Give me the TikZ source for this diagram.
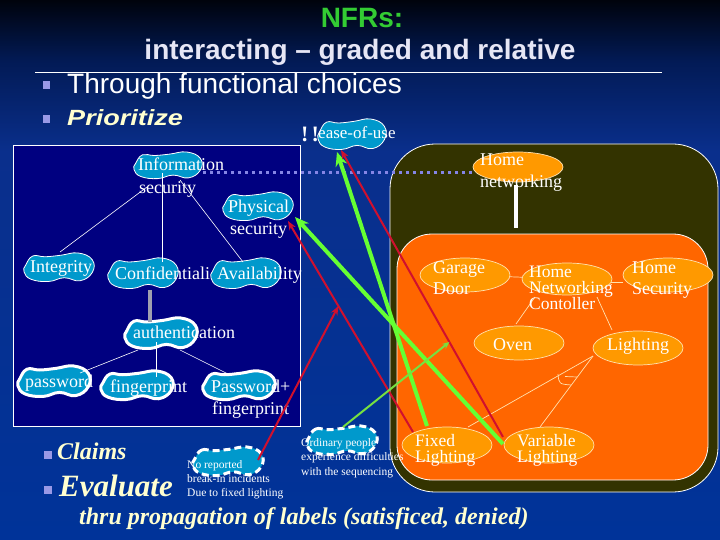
\documentclass[tikz,border=0pt]{standalone}
\usepackage{fontspec}
\setmainfont{Liberation Serif}
\newfontfamily\sansf{Liberation Sans}
\usetikzlibrary{arrows.meta,shapes.geometric,calc}
\definecolor{bgtop}{HTML}{00030C}
\definecolor{bgup}{HTML}{021A55}
\definecolor{bgmid}{HTML}{0A2F8C}
\definecolor{bgbot}{HTML}{003399}
\definecolor{cloudc}{HTML}{0099CC}
\definecolor{ellc}{HTML}{FF9900}
\definecolor{ellline}{HTML}{FFE2B0}
\definecolor{orboxc}{HTML}{FF6600}
\definecolor{olivec}{HTML}{333300}
\definecolor{navyc}{HTML}{000080}
\definecolor{grn}{HTML}{66FF33}
\definecolor{grnthin}{HTML}{77E040}
\definecolor{redc}{HTML}{D0102E}
\definecolor{lav}{HTML}{9999E6}
\definecolor{cream}{HTML}{FFFFD0}
\definecolor{titleg}{HTML}{33CC33}
\definecolor{titlel}{HTML}{E6E6F5}
\definecolor{dotc}{HTML}{8585E5}
\definecolor{grayl}{HTML}{A0A0B0}
\pgfdeclareverticalshading{bgsh}{100bp}{color(0bp)=(bgbot); color(25bp)=(bgbot); color(61bp)=(bgmid); color(69.4bp)=(bgup); color(75bp)=(bgtop); color(100bp)=(bgtop)}
\newcommand\blobat[6]{%
  \begin{scope}[shift={(#2,#3)},xscale=#4,yscale=#5]
    \path[#6] plot[smooth cycle,tension=0.75] coordinates {(-0.95,-0.2) (-0.75,-0.8) (-0.4,-0.75) (0.05,-0.85) (0.55,-1) (0.95,-0.55) (0.95,0.3) (0.6,0.85) (0.15,0.65) (-0.3,0.9) (-0.8,0.75) (-1,0.25)};
  \end{scope}
  \node[inner sep=0pt,minimum width=#4*2pt,minimum height=#5*2pt] (#1) at (#2,#3) {};}
\begin{document}
\begin{tikzpicture}[x=1pt,y=-1pt,
  lbl/.style={anchor=base west,inner sep=0pt,text=white,font=\fontsize{18}{20}\selectfont},
  lbls/.style={anchor=base west,inner sep=0pt,text=white,font=\fontsize{17.5}{19}\selectfont},
  sml/.style={anchor=base west,inner sep=0pt,text=white,font=\fontsize{11.5}{13}\selectfont},
  ell/.style={ellipse,draw=ellline,fill=ellc,line width=0.7pt,inner sep=0pt,minimum width=90pt,minimum height=34pt},
  thinw/.style={draw=white,line width=0.6pt},
  thino/.style={draw=ellline,line width=0.7pt},
  grnthick/.style={draw=grn,line width=4pt,-{Stealth[length=14pt,width=12pt]}},
  redl/.style={draw=redc,line width=2pt,-{Stealth[length=9pt,width=7pt]}},
  blt/.style={fill=lav,inner sep=0pt,minimum size=7.5pt},
  cloudthin/.style={draw=white,line width=0.8pt,fill=cloudc},
  cloudthick/.style={draw=white,line width=3pt,fill=cloudc},
  clouddash/.style={draw=white,line width=3pt,fill=cloudc,dash pattern=on 7pt off 4pt},
]
\useasboundingbox (0,0) rectangle (720,540);
\shade[shading=bgsh] (0,0) rectangle (720,540);

% title
\node[anchor=base,inner sep=0pt,font=\sansf\bfseries\fontsize{28}{30}\selectfont,text=titleg] (tNFR) at (362,28) {NFRs:};
\node[anchor=base,inner sep=0pt,font=\sansf\bfseries\fontsize{28}{30}\selectfont,text=titlel] (tInt) at (360,60) {interacting – graded and relative};
\draw[white,line width=0.8pt] (35,72) -- (662,72);
\node[blt] (b1) at (46.5,85) {};
\node[anchor=base west,inner sep=0pt,font=\sansf\fontsize{28}{30}\selectfont,text=white] (tThr) at (67,94) {Through functional choices};
\node[blt] (b2) at (46.5,119) {};
\node[anchor=base west,inner sep=0pt,font=\sansf\bfseries\itshape\fontsize{22}{24}\selectfont,text=cream] (tPri) at (67,126) {\scalebox{1.23}[1]{Prioritize}};

% boxes
\node[draw=white,fill=navyc,line width=0.8pt,inner sep=0pt,minimum width=287pt,minimum height=281pt] (lbox) at (156.5,285.5) {};
\node[draw=white,fill=olivec,line width=0.8pt,rounded corners=45pt,inner sep=0pt,minimum width=328pt,minimum height=348pt] (olive) at (554,318) {};
\node[draw=white,fill=orboxc,line width=0.8pt,rounded corners=35pt,inner sep=0pt,minimum width=311pt,minimum height=246pt] (orbox) at (552.5,357) {};

% clouds
\blobat{info}{168}{166}{34}{14}{cloudthin}
\blobat{phys}{258}{207}{35}{15}{cloudthin}
\blobat{integ}{59}{268}{35}{15}{cloudthin}
\blobat{conf}{143}{274}{35}{16}{cloudthin}
\blobat{avail}{246}{274}{35}{16}{cloudthin}
\blobat{auth}{161}{334}{36}{16}{cloudthick}
\blobat{pwd}{54}{382}{36}{16}{cloudthick}
\blobat{fing}{137}{386}{36}{15}{cloudthick}
\blobat{pwdf}{239}{386}{36}{15}{cloudthick}
\blobat{ease}{352}{135}{34}{16}{cloudthin}
\blobat{norep}{228}{462}{35}{15}{clouddash}
\blobat{ordin}{342}{441}{35}{15}{clouddash}

% ellipses
\node[ell,minimum height=30pt] (hn) at (518,167) {};
\node[ell] (garage) at (465,275) {};
\node[ell,minimum height=32pt] (hnc) at (567,279) {};
\node[ell] (hsec) at (668,275) {};
\node[ell] (oven) at (519,343) {};
\node[ell] (light) at (638,348) {};
\node[ell,minimum height=36pt] (fixed) at (447,445) {};
\node[ell,minimum height=36pt] (var) at (549,445) {};

% left tree lines
\draw[thinw] ($(info)+(-21,21)$) -- ($(integ)+(1,-16)$);
\draw[thinw] ($(info)+(-6,7)$) -- ($(conf)+(19,-12)$);
\draw[thinw] ($(info)+(12,14)$) -- ($(avail)+(-3,-12)$);
\draw[grayl,line width=4pt] ($(conf)+(7,16)$) -- ($(auth)+(-11,-12)$);
\draw[thinw] ($(auth)+(-23,16)$) -- ($(pwd)+(26,-9)$);
\draw[thinw] ($(auth)+(-5,8)$) -- ($(fing)+(19,-9)$);
\draw[thinw] ($(auth)+(19,16)$) -- ($(pwdf)+(-9,-11)$);

% right tree lines
\draw[white,line width=3.5pt] ($(hn)+(-2,18)$) -- ($(orbox.north)+(-36.5,-6)$);
\draw[thino] (garage) -- (hnc);
\draw[thino] ($(hnc)+(44,3)$) -- ($(hsec)+(-45,7)$);
\draw[thino] ($(hnc)+(-32,18)$) -- ($(oven)+(-3,-19)$);
\draw[thino] ($(hnc)+(30,18)$) -- ($(light)+(-26,-18)$);
\draw[thino] ($(light)+(-45,8)$) -- ($(fixed)+(21,-18)$);
\draw[thino] ($(light)+(-45,8)$) -- ($(var)+(-9,-18)$);
\draw[thino] ($(light)+(-80,26)$) .. controls ($(light)+(-79,36)$) .. ($(light)+(-67,37)$);
\draw[thino] ($(light)+(-73,28.5)$) -- ($(light)+(-61,29)$);

% dotted link
\draw[dotc,line width=3pt,dash pattern=on 3pt off 4pt] ($(info)+(35,7)$) -- ($(hn)+(-46,6)$);

% labels
\node[lbl] (tInfoA) at (138,171) {Information};
\node[lbl] (tInfoB) at (139,193.5) {security};
\node[lbl] (tPhysA) at (228,212.5) {Physical};
\node[lbl] (tPhysB) at (230,234.5) {security};
\node[lbl] (tInteg) at (30,272.5) {Integrity};
\node[lbl] (tConf) at (115,279) {Confidentiali};
\node[lbl] (tAvail) at (217,279) {Availability};
\node[lbl] (tAuth) at (133,338.5) {authentication};
\node[lbl] (tPwd) at (25,387.5) {password};
\node[lbl] (tFing) at (110,392.5) {fingerprint};
\node[lbl] (tPwdfA) at (211,392.5) {Password+};
\node[lbl] (tPwdfB) at (212,414.5) {fingerprint};
\node[lbl,font=\bfseries\fontsize{22}{24}\selectfont] (tExcl) at (301,142) {!\kern3pt!};
\node[lbl,font=\fontsize{17}{19}\selectfont] (tEase) at (318,139) {ease-of-use};
\node[sml] (tNoA) at (187,468.5) {No reported};
\node[sml] (tNoB) at (187,482.5) {break-in incidents};
\node[sml] (tNoC) at (187,496.5) {Due to fixed lighting};
\node[sml] (tOrdA) at (301,446.5) {Ordinary people};
\node[sml] (tOrdB) at (301,460.5) {experience difficulties};
\node[sml] (tOrdC) at (301,475.5) {with the sequencing};

\node[lbl] (tHnA) at (480,165.5) {Home};
\node[lbl] (tHnB) at (480,187.5) {networking};
\node[lbl] (tGarA) at (433,273.5) {Garage};
\node[lbl] (tGarB) at (433,294.5) {Door};
\node[lbls] (tHncA) at (529,277.5) {Home};
\node[lbls] (tHncB) at (529,293.5) {Networking};
\node[lbls] (tHncC) at (529,309.5) {Contoller};
\node[lbl] (tHsA) at (632,273.5) {Home};
\node[lbl] (tHsB) at (632,294.5) {Security};
\node[lbl] (tOven) at (493,350.5) {Oven};
\node[lbl] (tLight) at (607,350.5) {Lighting};
\node[lbls] (tFixA) at (415,446.5) {Fixed};
\node[lbls] (tFixB) at (415,462.5) {Lighting};
\node[lbls] (tVarA) at (517,446.5) {Variable};
\node[lbls] (tVarB) at (517,462.5) {Lighting};

% contribution links
\draw[grnthick] ($(fixed)+(-20,-19)$) -- ($(ease)+(-15,17)$);
\draw[grnthick] ($(var)+(-46,-1)$) -- ($(phys)+(37,10)$);
\draw[redl] ($(var)+(-46,-8)$) -- coordinate[pos=0.331] (c19) ($(ease)+(-11,15)$);
\draw[redl] ($(fixed)+(-34,-13)$) -- coordinate[pos=0.597] (c20) ($(phys)+(30,14)$);
\draw[redl] ($(norep)+(30,-2)$) -- (c20);
\draw[draw=grnthin,line width=2pt,-{Stealth[length=7pt,width=6pt]}] ($(ordin)+(1,-14)$) -- (c19);

% bottom bullets
\node[blt] (b3) at (48,455) {};
\node[anchor=base west,inner sep=0pt,font=\bfseries\itshape\fontsize{24}{26}\selectfont,text=cream] (tClaims) at (57,459) {Claims};
\node[blt] (b4) at (48,490) {};
\node[anchor=base west,inner sep=0pt,font=\bfseries\itshape\fontsize{31}{33}\selectfont,text=cream] (tEval) at (59,496) {Evaluate};
\node[anchor=base west,inner sep=0pt,font=\bfseries\itshape\fontsize{24}{26}\selectfont,text=cream] (tThru) at (79,524) {thru propagation of labels (satisficed, denied)};
\end{tikzpicture}
\end{document}
